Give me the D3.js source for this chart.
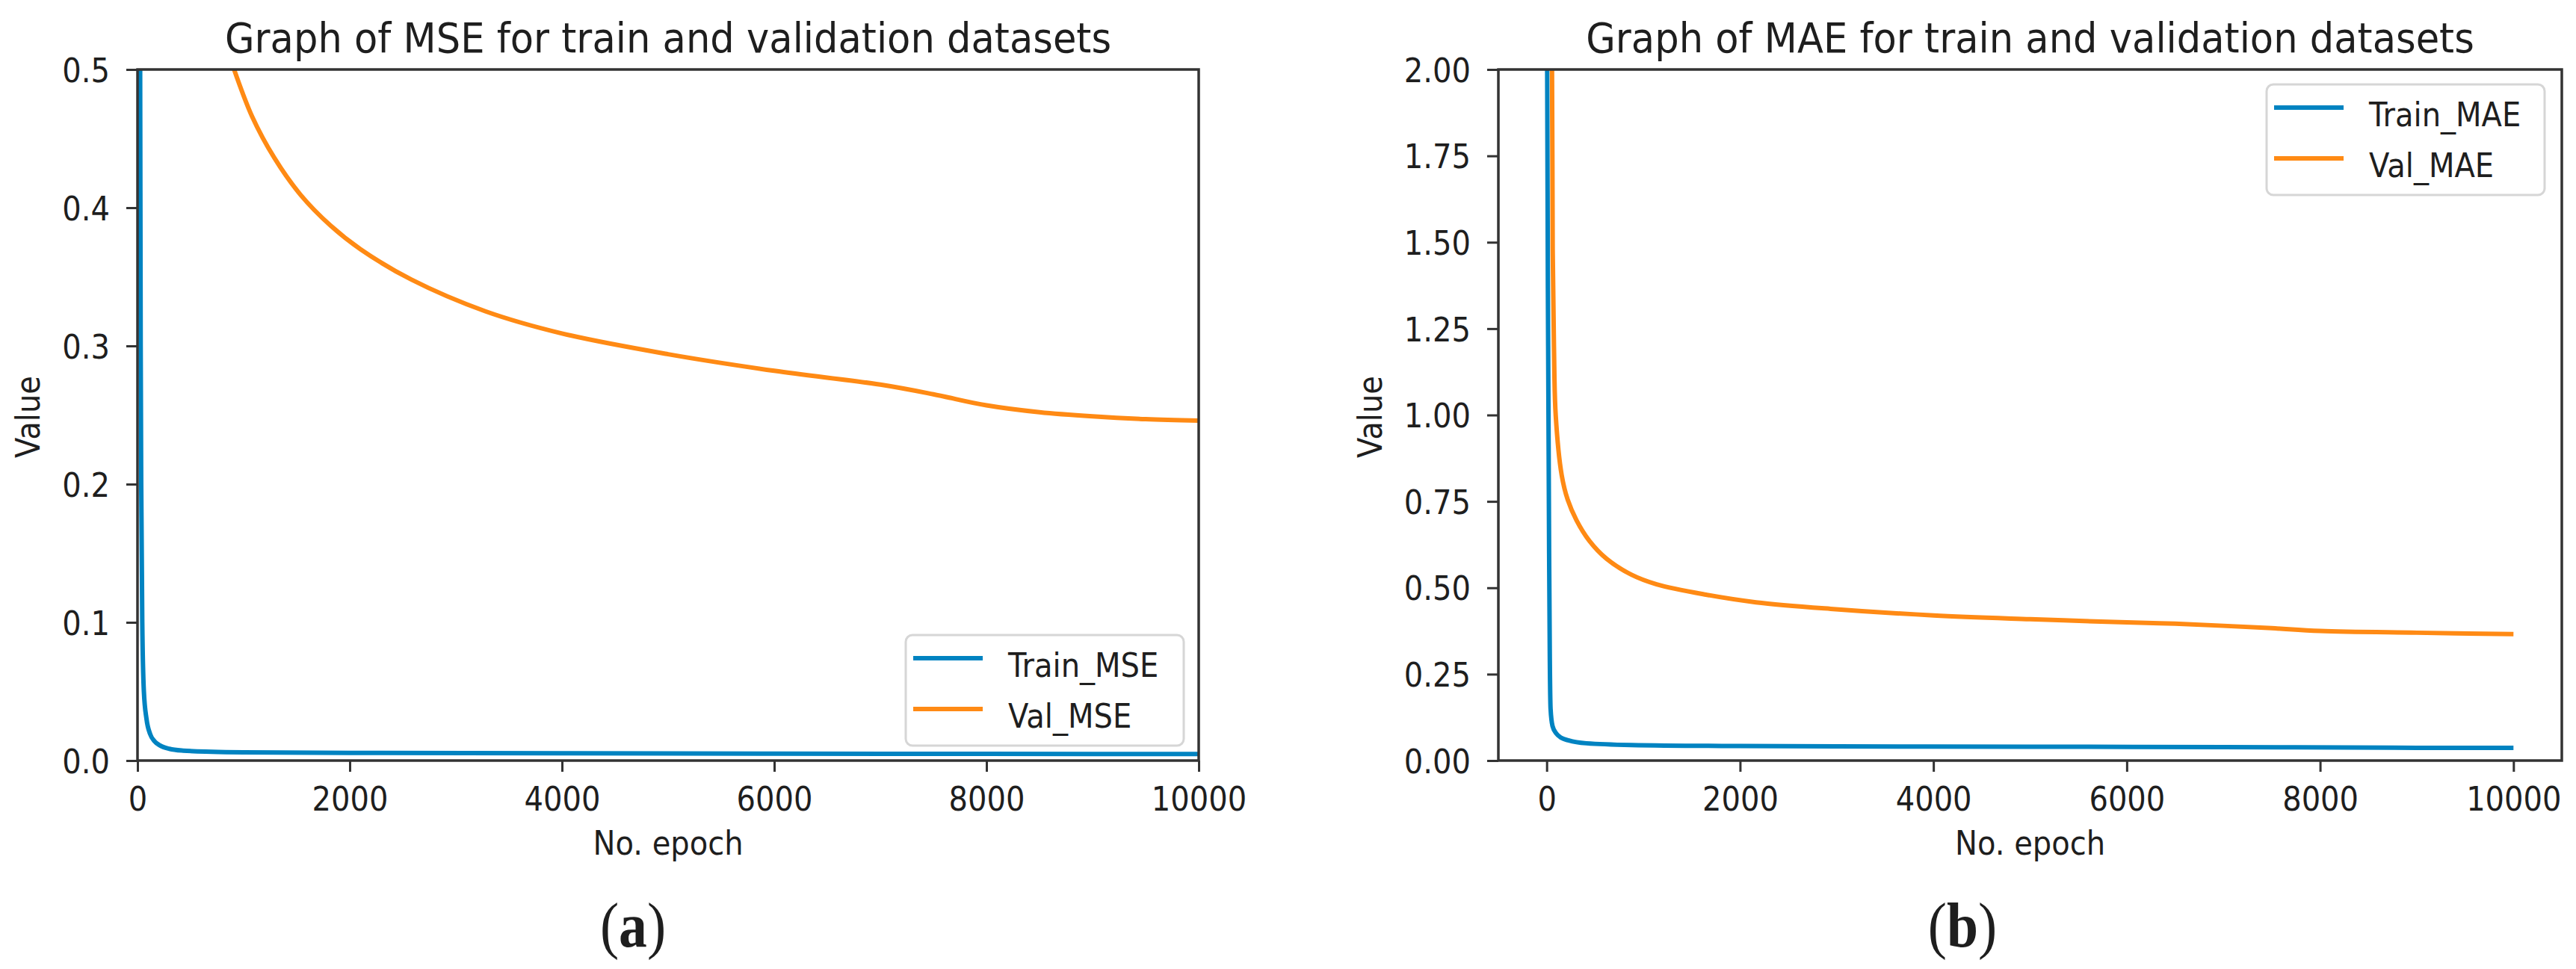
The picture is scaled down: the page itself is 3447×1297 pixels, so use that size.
<!DOCTYPE html>
<html lang="en">
<head>
<meta charset="UTF-8">
<title>Graph of MSE / MAE for train and validation datasets</title>
<script src="https://d3js.org/d3.v7.min.js"></script>
<style>
  body { margin: 0; background: #ffffff; }
  text { font-family: "DejaVu Sans", sans-serif; fill: #1e1e1e; }
</style>
</head>
<body>
<svg id="fig" width="3447" height="1297"></svg>
<script>
// tick labels
var epochTicks = [0, 2000, 4000, 6000, 8000, 10000];
var mseTicks = [0, 0.1, 0.2, 0.3, 0.4, 0.5];
var maeTicks = [0, 0.25, 0.5, 0.75, 1.0, 1.25, 1.5, 1.75, 2.0];

// series: [epoch, value]
var trainMSE = [[0, 3.0], [15, 1.0], [25, 0.5], [30, 0.3], [35, 0.2], [45, 0.1], [60, 0.05], [85, 0.03],
  [120, 0.019], [160, 0.014], [210, 0.011], [300, 0.0085], [430, 0.0072], [700, 0.0064], [1000, 0.006],
  [2000, 0.0056], [4000, 0.0053], [6000, 0.005], [8000, 0.0048], [10000, 0.0047]];
var valMSE = [[600, 0.6], [800, 0.525], [910, 0.5], [1080, 0.466], [1290, 0.436], [1540, 0.409], [1820, 0.387],
  [2100, 0.37], [2580, 0.348], [3280, 0.325], [4000, 0.309], [5000, 0.294], [6000, 0.282], [7000, 0.272],
  [7500, 0.265], [8000, 0.257], [8500, 0.252], [9000, 0.249], [9500, 0.247], [10000, 0.246]];
var trainMAE = [[0, 3.0], [5, 2.0], [15, 1.2], [25, 0.6], [32, 0.3], [40, 0.15], [60, 0.1], [100, 0.078],
  [150, 0.066], [230, 0.058], [410, 0.05], [875, 0.045], [2000, 0.042], [3000, 0.041], [5000, 0.04],
  [7000, 0.039], [9000, 0.037], [10000, 0.037]];
var valMAE = [[0, 4.0], [40, 2.2], [55, 2.0], [62, 1.48], [75, 1.2], [93, 1.0], [155, 0.826], [217, 0.755],
  [309, 0.695], [441, 0.636], [619, 0.584], [875, 0.538], [1137, 0.51], [1648, 0.48], [2165, 0.458],
  [2938, 0.439], [4000, 0.42], [5000, 0.409], [6000, 0.4], [6500, 0.396], [7000, 0.39], [7500, 0.383],
  [8000, 0.375], [9000, 0.37], [10000, 0.366]];

var svg = d3.select("#fig");
var blue = "#0083c1", orange = "#ff8a14";
var squeeze = 0.89;   // the glyphs in the picture are narrow
var top_ = 93, bottom = 1018;

function panel(p) {
  var x = d3.scaleLinear().domain(p.xDomain).range([p.left, p.right]);
  var y = d3.scaleLinear().domain(p.yDomain).range([bottom, top_]);
  var g = svg.append("g");

  // clip to the axes box
  g.append("clipPath").attr("id", p.id + "clip")
    .append("rect").attr("x", p.left).attr("y", top_)
    .attr("width", p.right - p.left).attr("height", bottom - top_);

  var trainLine = d3.line()
    .x(function (d) { return x(d[0]); })
    .y(function (d) { return y(d[1]); })
    .curve(d3.curveMonotoneX);
  var valLine = d3.line()
    .x(function (d) { return x(d[0]); })
    .y(function (d) { return y(d[1]); })
    .curve(d3.curveCatmullRom.alpha(0.5));

  // add lines
  var lines = g.append("g").attr("clip-path", "url(#" + p.id + "clip)");
  lines.append("path").datum(p.train).attr("d", trainLine)
    .attr("fill", "none").attr("stroke", blue).attr("stroke-width", 6);
  lines.append("path").datum(p.val).attr("d", valLine)
    .attr("fill", "none").attr("stroke", orange).attr("stroke-width", 6);

  // add x axis
  var xa = g.append("g").attr("transform", "translate(0," + bottom + ")")
    .call(d3.axisBottom(x).tickValues(epochTicks).tickSize(15).tickSizeOuter(0).tickFormat(d3.format("d")));
  xa.select(".domain").remove();
  xa.selectAll(".tick line").attr("stroke", "#333").attr("stroke-width", 3);
  xa.selectAll(".tick text").attr("y", 0).attr("dy", 0)
    .attr("transform", "translate(0,67) scale(" + squeeze + ",1)")
    .style("font-size", "45px").style("font-family", "DejaVu Sans").attr("fill", "#1e1e1e");

  // add y axis
  var ya = g.append("g").attr("transform", "translate(" + p.left + ",0)")
    .call(d3.axisLeft(y).tickValues(p.yTicks).tickSize(15).tickSizeOuter(0).tickFormat(d3.format(p.yFormat)));
  ya.select(".domain").remove();
  ya.selectAll(".tick line").attr("stroke", "#333").attr("stroke-width", 3);
  ya.selectAll(".tick text").attr("x", 0).attr("dy", "0.36em")
    .attr("transform", "translate(-37,0) scale(" + squeeze + ",1)")
    .style("font-size", "45px").style("font-family", "DejaVu Sans").attr("fill", "#1e1e1e");

  // spines
  g.append("rect").attr("x", p.left).attr("y", top_)
    .attr("width", p.right - p.left).attr("height", bottom - top_)
    .attr("fill", "none").attr("stroke", "#333").attr("stroke-width", 3.5);

  // title
  var cx = (p.left + p.right) / 2;
  g.append("text").attr("text-anchor", "middle")
    .attr("transform", "translate(" + cx + ",70) scale(0.93,1)")
    .style("font-size", "55px").text(p.title);

  // axis labels
  g.append("text").attr("text-anchor", "middle")
    .attr("transform", "translate(" + cx + ",1144) scale(" + squeeze + ",1)")
    .style("font-size", "45px").text("No. epoch");
  g.append("text").attr("text-anchor", "middle")
    .attr("transform", "translate(" + p.ylabelX + ",558) rotate(-90) scale(" + squeeze + ",1)")
    .style("font-size", "45px").text("Value");

  // legend
  var lg = g.append("g");
  lg.append("rect").attr("x", p.legX).attr("y", p.legY).attr("width", 372).attr("height", 148)
    .attr("rx", 9).attr("fill", "#fff").attr("fill-opacity", 0.8)
    .attr("stroke", "#d6d6d6").attr("stroke-width", 3);
  [[p.names[0], blue], [p.names[1], orange]].forEach(function (e, i) {
    var ly = p.legY + 31 + i * 68;
    lg.append("line").attr("x1", p.legX + 10).attr("x2", p.legX + 103)
      .attr("y1", ly).attr("y2", ly).attr("stroke", e[1]).attr("stroke-width", 6);
    lg.append("text")
      .attr("transform", "translate(" + (p.legX + 137) + "," + (ly + 25) + ") scale(" + squeeze + ",1)")
      .style("font-size", "45px").text(e[0]);
  });

  // caption
  var cap = g.append("text").attr("text-anchor", "middle")
    .attr("transform", "translate(" + p.capX + ",1267) scale(0.9,1)")
    .style("font-family", "Liberation Serif").style("font-size", "84px").attr("fill", "#000");
  cap.append("tspan").text("(");
  cap.append("tspan").style("font-weight", "bold").text(p.cap);
  cap.append("tspan").text(")");
}

panel({
  id: "mse", left: 184, right: 1604, xDomain: [0, 10000], yDomain: [0, 0.5],
  yTicks: mseTicks, yFormat: ".1f", train: trainMSE, val: valMSE,
  title: "Graph of MSE for train and validation datasets",
  names: ["Train_MSE", "Val_MSE"], legX: 1212, legY: 850, ylabelX: 53, capX: 847, cap: "a"
});

panel({
  id: "mae", left: 2005, right: 3428, xDomain: [-500, 10500], yDomain: [0, 2],
  yTicks: maeTicks, yFormat: ".2f", train: trainMAE, val: valMAE,
  title: "Graph of MAE for train and validation datasets",
  names: ["Train_MAE", "Val_MAE"], legX: 3033, legY: 113, ylabelX: 1849, capX: 2626, cap: "b"
});
</script>
</body>
</html>
